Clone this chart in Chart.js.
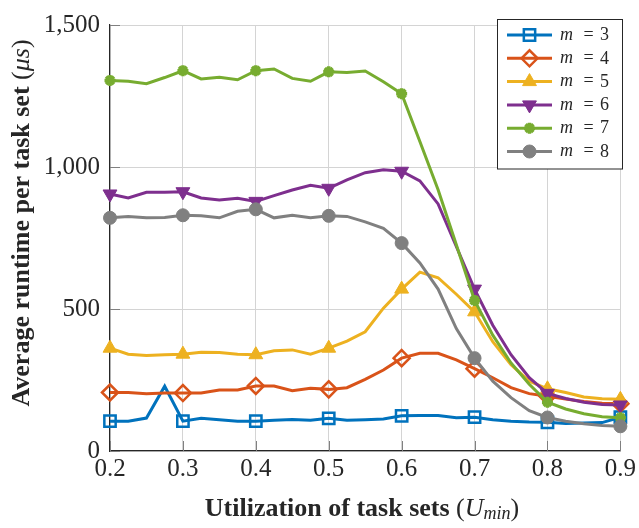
<!DOCTYPE html>
<html>
<head>
<meta charset="utf-8">
<script src="https://cdn.jsdelivr.net/npm/chart.js@4/dist/chart.umd.min.js"></script>
<style>
  body { margin: 0; background: #fff; }
</style>
</head>
<body>
<canvas id="myChart" width="639" height="528"></canvas>
<script>
'use strict';

// x values (utilization), one point every 0.025
var utilization = [0.2, 0.225, 0.25, 0.275, 0.3, 0.325, 0.35, 0.375, 0.4, 0.425, 0.45, 0.475, 0.5, 0.525, 0.55,
  0.575, 0.6, 0.625, 0.65, 0.675, 0.7, 0.725, 0.75, 0.775, 0.8, 0.825, 0.85, 0.875, 0.9];

// average runtime (us) per number of cores m
var runtimeM3 = [105, 105, 116, 228, 105, 115, 110, 105, 105, 108, 111, 108, 115, 108, 110,
  113, 124, 125, 125, 117, 119, 110, 105, 102, 101, 97, 99, 100, 119];
var runtimeM4 = [206, 206, 202, 204, 204, 204, 215, 215, 229, 229, 212, 221, 217, 223, 252,
  285, 327, 344, 344, 321, 290, 258, 223, 202, 193, 183, 174, 168, 166];
var runtimeM5 = [362, 341, 336, 339, 341, 348, 347, 341, 339, 353, 356, 341, 362, 387, 420,
  503, 570, 630, 610, 552, 490, 385, 304, 246, 219, 206, 190, 184, 182];
var runtimeM6 = [905, 891, 911, 911, 913, 891, 884, 890, 879, 899, 919, 936, 925, 955, 980,
  990, 985, 951, 870, 720, 570, 443, 339, 258, 203, 185, 172, 164, 162];
var runtimeM7 = [1305, 1302, 1293, 1315, 1339, 1310, 1316, 1307, 1339, 1345, 1312, 1302, 1335, 1333, 1338,
  1300, 1258, 1090, 920, 726, 530, 408, 310, 235, 172, 148, 131, 121, 117];
var runtimeM8 = [821, 826, 821, 822, 830, 828, 821, 844, 851, 821, 830, 821, 828, 826, 807,
  784, 732, 662, 570, 431, 327, 246, 188, 142, 118, 105, 96, 90, 87];

var seriesNames = ['3', '4', '5', '6', '7', '8'];
var xTicks = [0.2, 0.3, 0.4, 0.5, 0.6, 0.7, 0.8, 0.9];
var yTicks = [0, 500, 1000, 1500];

var allRuntimes = [runtimeM3, runtimeM4, runtimeM5, runtimeM6, runtimeM7, runtimeM8];
var colors = ['#0072BD', '#D95319', '#EDB120', '#7E2F8E', '#77AC30', '#808080'];
var markers = [
  { style: 'rect', r: 8, fill: 'rgba(0,0,0,0)', bw: 2.5, rot: 0 },
  { style: 'rectRot', r: 8, fill: 'rgba(0,0,0,0)', bw: 2.5, rot: 0 },
  { style: 'triangle', r: 8, fill: null, bw: 1, rot: 0 },
  { style: 'triangle', r: 8, fill: null, bw: 1, rot: 180 },
  { style: 'star', r: 5.5, fill: null, bw: 3.5, rot: 0 },
  { style: 'circle', r: 6.5, fill: null, bw: 1, rot: 0 }
];

var serif = '"Liberation Serif", "DejaVu Serif", serif';

var datasets = allRuntimes.map(function (vals, i) {
  var mk = markers[i];
  return {
    label: 'm = ' + seriesNames[i],
    data: utilization.map(function (u, j) { return { x: u, y: vals[j] }; }),
    borderColor: colors[i],
    backgroundColor: colors[i],
    borderWidth: 3,
    tension: 0,
    clip: false,
    order: 10 - i,
    pointStyle: mk.style,
    pointRotation: mk.rot,
    pointBackgroundColor: mk.fill || colors[i],
    pointBorderColor: colors[i],
    pointBorderWidth: mk.bw,
    pointRadius: function (c) { return xTicks.indexOf(utilization[c.dataIndex]) >= 0 ? mk.r : 0; },
    pointHoverRadius: function (c) { return xTicks.indexOf(utilization[c.dataIndex]) >= 0 ? mk.r : 0; }
  };
});

// draws text pieces with different fonts side by side, centered on 0
function drawPieces(ctx, pieces) {
  var total = 0;
  pieces.forEach(function (p) { ctx.font = p.f; p.w = ctx.measureText(p.t).width; total += p.w; });
  var x = -total / 2;
  pieces.forEach(function (p) {
    ctx.font = p.f;
    ctx.fillText(p.t, x, p.dy || 0);
    x += p.w;
  });
}

var extras = {
  id: 'extras',
  afterDatasetsDraw: function (chart) {
    var ctx = chart.ctx;
    var a = chart.chartArea;
    var xs = chart.scales.x, ys = chart.scales.y;

    // small inward tick marks
    ctx.save();
    ctx.strokeStyle = '#808080';
    ctx.lineWidth = 1;
    yTicks.forEach(function (v) {
      var y = Math.round(ys.getPixelForValue(v)) + 0.5;
      ctx.beginPath(); ctx.moveTo(a.left, y); ctx.lineTo(a.left + 10, y); ctx.stroke();
    });
    xTicks.forEach(function (v) {
      var x = Math.round(xs.getPixelForValue(v)) + 0.5;
      ctx.beginPath(); ctx.moveTo(x, a.bottom); ctx.lineTo(x, a.bottom - 10); ctx.stroke();
    });
    ctx.restore();

    // axis titles
    ctx.save();
    ctx.fillStyle = '#262626';
    ctx.textBaseline = 'middle';
    ctx.translate(22, 223);
    ctx.rotate(-Math.PI / 2);
    drawPieces(ctx, [
      { t: 'Average runtime per task set ', f: 'bold 26px ' + serif },
      { t: '(', f: '26px ' + serif },
      { t: '\u03bcs', f: 'italic 26px ' + serif },
      { t: ')', f: '26px ' + serif }
    ]);
    ctx.restore();

    ctx.save();
    ctx.fillStyle = '#262626';
    ctx.textBaseline = 'middle';
    ctx.translate(362, 509);
    drawPieces(ctx, [
      { t: 'Utilization of task sets ', f: 'bold 26px ' + serif },
      { t: '(', f: '26px ' + serif },
      { t: 'U', f: 'italic 26px ' + serif },
      { t: 'min', f: 'italic 18px ' + serif, dy: 5 },
      { t: ')', f: '26px ' + serif }
    ]);
    ctx.restore();

    // legend box in the upper right corner
    var bx = 497, by = 19.5, bw = 125, bh = 149.5;
    ctx.save();
    ctx.fillStyle = '#ffffff';
    ctx.fillRect(bx, by, bw, bh);
    ctx.strokeStyle = '#262626';
    ctx.lineWidth = 1;
    ctx.strokeRect(bx + 0.5, by, bw, bh);
    chart.data.datasets.forEach(function (ds, i) {
      var y = 35 + i * 23.3;
      var mk = markers[i];
      ctx.strokeStyle = colors[i];
      ctx.lineWidth = 3;
      ctx.beginPath(); ctx.moveTo(507, y); ctx.lineTo(552, y); ctx.stroke();
      ctx.fillStyle = mk.fill || colors[i];
      ctx.strokeStyle = colors[i];
      ctx.lineWidth = mk.bw;
      Chart.helpers.drawPoint(ctx, { pointStyle: mk.style, radius: mk.r, rotation: mk.rot, borderWidth: mk.bw }, 529.5, y);
      ctx.fillStyle = '#262626';
      ctx.textBaseline = 'middle';
      ctx.textAlign = 'left';
      ctx.font = 'italic 18px ' + serif;
      ctx.fillText('m', 560, y);
      ctx.font = '18px ' + serif;
      ctx.textAlign = 'center';
      ctx.fillText('=', 588.5, y);
      ctx.textAlign = 'left';
      ctx.fillText(seriesNames[i], 600, y + 0.5);
    });
    ctx.restore();
  }
};

var ctx = document.getElementById('myChart').getContext('2d');
var chart = new Chart(ctx, {
  type: 'line',
  data: { datasets: datasets },
  plugins: [extras],
  options: {
    responsive: false,
    animation: false,
    layout: { padding: { top: 18, right: 17, left: 0, bottom: 0 } },
    plugins: {
      legend: { display: false },
      tooltip: { enabled: false }
    },
    scales: {
      x: {
        type: 'linear',
        min: 0.2,
        max: 0.9,
        afterFit: function (s) { s.height = 77; },
        afterBuildTicks: function (s) { s.ticks = xTicks.map(function (v) { return { value: v }; }); },
        ticks: {
          font: { family: serif, size: 25 },
          color: '#262626',
          padding: 3,
          maxRotation: 0,
          autoSkip: false,
          callback: function (v) { return Number(v).toFixed(1); }
        },
        grid: { color: '#d4d4d4', lineWidth: 1, drawTicks: false },
        border: { color: '#262626', width: 1.2 }
      },
      y: {
        min: 0,
        max: 1500,
        afterFit: function (s) { s.width = 110; },
        afterBuildTicks: function (s) { s.ticks = yTicks.map(function (v) { return { value: v }; }); },
        ticks: {
          font: { family: serif, size: 25 },
          color: '#262626',
          padding: 10,
          autoSkip: false,
          callback: function (v) { return Number(v).toLocaleString('en-US'); }
        },
        grid: { color: '#d4d4d4', lineWidth: 1, drawTicks: false },
        border: { color: '#262626', width: 1.2 }
      }
    }
  }
});
</script>
</body>
</html>
